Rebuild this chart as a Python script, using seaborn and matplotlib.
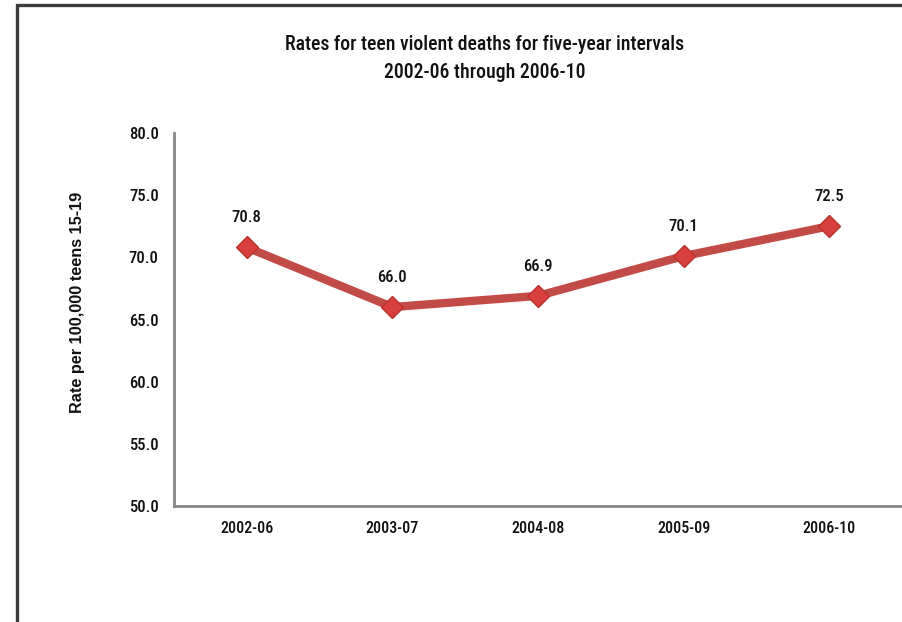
import matplotlib
matplotlib.use("Agg")
import matplotlib.pyplot as plt
from matplotlib import font_manager
from matplotlib.patches import Rectangle
import seaborn as sns
import pandas as pd

periods = ["2002-06", "2003-07", "2004-08", "2005-09", "2006-10"]
rates = [70.8, 66.0, 66.9, 70.1, 72.5]
y_ticks = [50.0, 55.0, 60.0, 65.0, 70.0, 75.0, 80.0]

title_lines = ["Rates for teen violent deaths for five-year intervals",
               "2002-06 through 2006-10"]
y_label = "Rate per 100,000 teens 15-19"

sns.set_theme(style="white")
installed = {f.name for f in font_manager.fontManager.ttflist}
narrow_choices = ["Liberation Sans Narrow", "Roboto Condensed", "Open Sans Condensed",
                  "DejaVu Sans Condensed", "Lato"]
narrow = next((n for n in narrow_choices if n in installed), "DejaVu Sans")
plain = "Liberation Sans" if "Liberation Sans" in installed else "DejaVu Sans"
plt.rcParams["font.family"] = [narrow, "DejaVu Sans"]

ink = "#111111"
df = pd.DataFrame({"period": periods, "rate": rates})

fig = plt.figure(figsize=(9.03, 6.22), dpi=100)
ax = fig.add_axes([174 / 903, 1 - 506 / 622, (902 - 174) / 903, (506 - 133) / 622])

line_color = "#C24B48"
sns.lineplot(data=df, x="period", y="rate", ax=ax, color=line_color, linewidth=6,
             marker="D", markersize=11.5, markerfacecolor="#D8403D",
             markeredgecolor="#B8322F", markeredgewidth=1.0, sort=False, zorder=3)

for i, v in enumerate(rates):
    ax.annotate(f"{v:.1f}", (i, v), xytext=(0, 16), textcoords="offset points",
                ha="center", va="bottom", fontsize=12, fontweight="medium", color=ink)

ax.set_xlim(-0.5, len(periods) - 0.5)
ax.set_ylim(50, 80)
ax.set_yticks(y_ticks)
ax.set_yticklabels([f"{t:.1f}" for t in y_ticks], fontsize=12, fontweight="medium", color=ink)
ax.set_xticks([i - 0.5 for i in range(len(periods) + 1)])
ax.set_xticklabels([""] * (len(periods) + 1))
ax.set_xticks(range(len(periods)), minor=True)
ax.set_xticklabels(periods, minor=True, fontsize=11.5, fontweight="medium", color=ink)
ax.tick_params(axis="x", which="major", length=5, width=1.3, color="#868686", direction="out")
ax.tick_params(axis="x", which="minor", length=0, pad=11)
ax.tick_params(axis="y", length=5, width=1.3, color="#868686", direction="out", pad=6)
ax.set_xlabel("")
ax.set_ylabel(y_label, fontsize=11.7, fontweight="bold", color=ink, family=[plain, "DejaVu Sans"])
ax.yaxis.set_label_coords(85 / 903, 1 - 302 / 622, transform=fig.transFigure)

for side in ("top", "right"):
    ax.spines[side].set_visible(False)
for side in ("left", "bottom"):
    ax.spines[side].set_color("#868686")
    ax.spines[side].set_linewidth(2)

title_x = 485 / 903
fig.text(title_x, 1 - 45 / 622, title_lines[0], ha="center", va="center",
         fontsize=14.2, fontweight="medium", color=ink)
fig.text(title_x, 1 - 72 / 622, title_lines[1], ha="center", va="center",
         fontsize=14.2, fontweight="medium", color=ink)

# outer frame of the chart area
fig.patches.append(Rectangle((16.5 / 903, -0.1), 1.2, 1 - 5 / 622 + 0.1,
                             transform=fig.transFigure, fill=False,
                             edgecolor="#3C3C3C", linewidth=2.4, zorder=10))

fig.savefig("out.png", dpi=100)
